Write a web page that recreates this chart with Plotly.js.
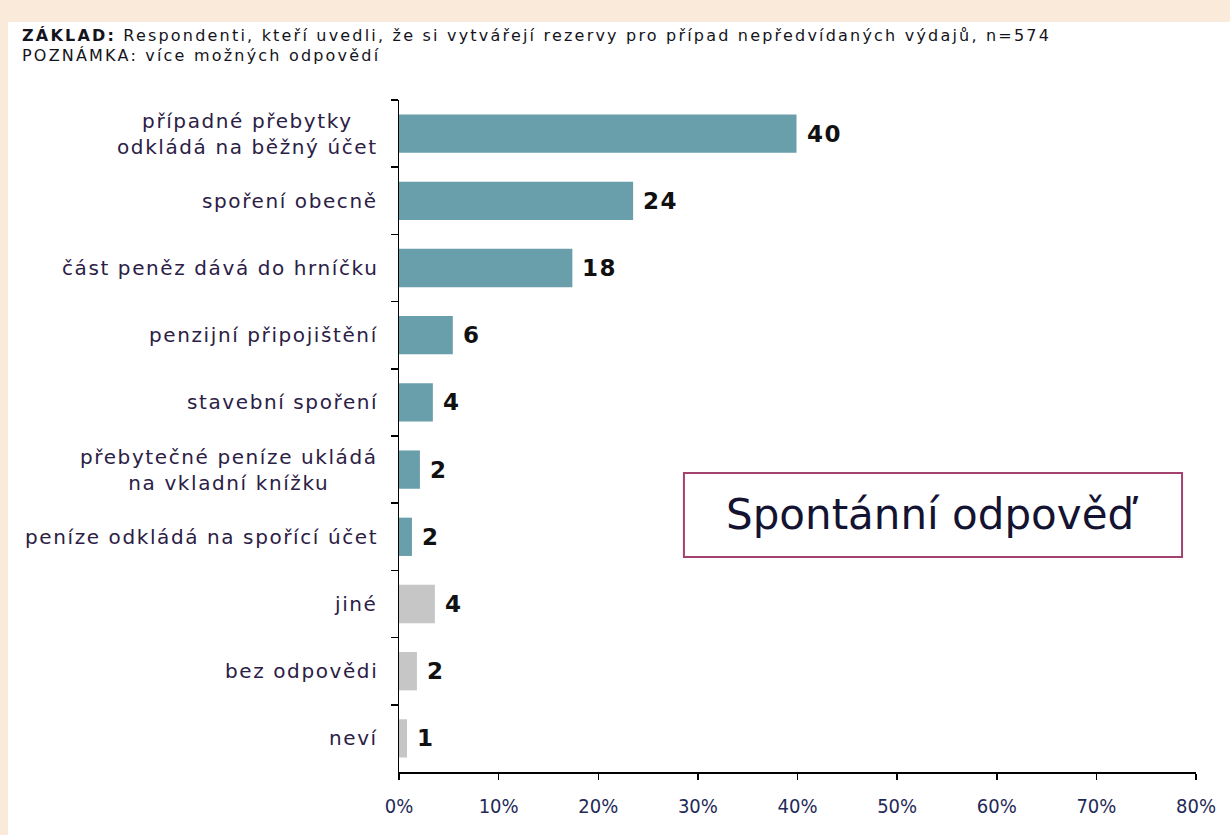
<!DOCTYPE html>
<html>
<head>
<meta charset="utf-8">
<script src="https://cdn.plot.ly/plotly-3.0.1.min.js"></script>
<style>
  html, body { margin: 0; padding: 0; background: #f9ead9; width: 1230px; height: 835px; overflow: hidden; }
  #chart { position: absolute; left: 8px; top: 22px; width: 1222px; height: 813px; background: #ffffff; }
</style>
</head>
<body>
<div id="chart"></div>
<script>
// ---- data ----
const categories = [
  "případné přebytky<br>odkládá na běžný účet",
  "spoření obecně",
  "část peněz dává do hrníčku",
  "penzijní připojištění",
  "stavební spoření",
  "přebytečné peníze ukládá<br>na vkladní knížku",
  "peníze odkládá na spořící účet",
  "jiné",
  "bez odpovědi",
  "neví"
];
const values = [39.9, 23.5, 17.4, 5.4, 3.4, 2.1, 1.3, 3.6, 1.8, 0.8];
const valueLabels = ["40", "24", "18", "6", "4", "2", "2", "4", "2", "1"];
const groups = ["main", "main", "main", "main", "main", "main", "main", "other", "other", "other"];
const xTickVals = [0, 10, 20, 30, 40, 50, 60, 70, 80];
const xTickText = ["0%", "10%", "20%", "30%", "40%", "50%", "60%", "70%", "80%"];
const headerBold = "ZÁKLAD:";
const headerRest = " Respondenti, kteří uvedli, že si vytvářejí rezervy pro případ nepředvídaných výdajů, n=574";
const noteText = "POZNÁMKA: více možných odpovědí";
const boxText = "Spontánní odpověď";

const colorMap = { main: "#699eab", other: "#c6c6c6" };

function spaced(txt, px) {
  return txt.split("<br>").map(l => '<span style="letter-spacing:' + px + 'px">' + l + '</span>').join("<br>");
}

const trace = {
  type: "bar",
  orientation: "h",
  y: categories,
  x: values,
  marker: { color: groups.map(g => colorMap[g]), line: { width: 0 } },
  width: 0.57,
  hoverinfo: "none"
};

const labelFont = { family: "DejaVu Sans, Verdana, sans-serif", size: 20, color: "#2b2045" };

const annotations = [];
categories.forEach((c, i) => {
  annotations.push({
    xref: "paper", yref: "y", x: 0, y: c, xanchor: "right", yanchor: "middle",
    xshift: -19, text: spaced(c, 1.6), showarrow: false, align: "center", font: labelFont
  });
  annotations.push({
    xref: "x", yref: "y", x: values[i], y: c, xanchor: "left", yanchor: "middle",
    xshift: 8, text: "<b>" + spaced(valueLabels[i], 1.5) + "</b>", showarrow: false,
    font: { family: "DejaVu Sans, Verdana, sans-serif", size: 23, color: "#111111" }
  });
});
const headFont = { family: "DejaVu Sans, sans-serif", size: 16, color: "#141420" };
annotations.push({
  xref: "paper", yref: "paper", x: -0.4755, y: 1.0955, xanchor: "left", yanchor: "middle",
  text: '<span style="letter-spacing:2.2px"><b>' + headerBold + '</b>' + headerRest + '</span>',
  showarrow: false, font: headFont
});
annotations.push({
  xref: "paper", yref: "paper", x: -0.4755, y: 1.0655, xanchor: "left", yanchor: "middle",
  text: spaced(noteText, 2.2), showarrow: false, font: headFont
});
annotations.push({
  xref: "x", yref: "paper", x: 53.6, y: 0.3825, xanchor: "center", yanchor: "middle",
  text: boxText, showarrow: false,
  font: { family: "DejaVu Sans, Verdana, sans-serif", size: 42, color: "#141432" }
});

const layout = {
  width: 1222, height: 813,
  margin: { l: 391, r: 34, t: 78, b: 63 },
  paper_bgcolor: "#ffffff",
  plot_bgcolor: "#ffffff",
  showlegend: false,
  xaxis: {
    range: [0, 80], tickvals: xTickVals, ticktext: xTickText,
    showgrid: false, zeroline: false,
    showline: true, linecolor: "#000000", linewidth: 1.5,
    ticks: "outside", ticklen: 6, tickwidth: 1.5, tickcolor: "#000000",
    ticklabelstandoff: 9,
    tickfont: { family: "DejaVu Sans Condensed, DejaVu Sans, sans-serif", size: 20, color: "#1f2a58" },
    fixedrange: true
  },
  yaxis: {
    type: "category", autorange: "reversed",
    categoryorder: "array", categoryarray: categories,
    showgrid: false, zeroline: false,
    showline: true, linecolor: "#000000", linewidth: 1.5,
    ticks: "outside", ticklen: 7, tickwidth: 1.5, tickcolor: "#000000",
    tickson: "boundaries",
    showticklabels: false,
    fixedrange: true
  },
  shapes: [{
    type: "rect", xref: "x", yref: "paper",
    x0: 28.6, x1: 78.6, y0: 0.32, y1: 0.445,
    line: { color: "#a3416f", width: 2 }, fillcolor: "rgba(0,0,0,0)"
  }],
  annotations: annotations
};

Plotly.newPlot("chart", [trace], layout, { displayModeBar: false, staticPlot: true });
</script>
</body>
</html>
